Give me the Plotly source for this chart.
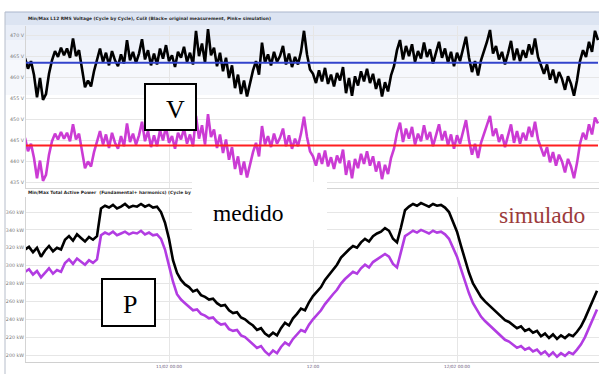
import pandas as pd
import plotly.graph_objects as go

# L12 RMS voltage (V), one sample every 15 min from 10/02 12:00
v_measured = [
    464.5, 462.0, 463.8, 460.5, 455.2, 459.8, 454.6, 456.0, 460.8, 464.0,
    466.2, 464.8, 467.0, 465.2, 466.8, 464.6, 469.2, 465.0, 466.4, 462.0,
    457.6, 459.2, 457.8, 461.4, 464.2, 466.8, 463.6, 465.8, 462.8, 466.2,
    464.0, 462.6, 465.4, 463.2, 468.8, 464.0, 466.0, 463.4, 465.6, 469.0,
    464.2, 466.4, 462.8, 465.6, 463.0, 466.8, 464.4, 467.6, 463.8, 465.2,
    462.4, 466.0, 464.6, 467.2, 463.6, 465.8, 463.0, 471.0, 465.0, 468.0,
    463.4, 471.4, 465.2, 467.0, 462.6, 465.8, 461.4, 464.6, 459.8, 462.8,
    457.4, 460.6, 456.0, 459.2, 455.4, 458.8, 461.6, 463.8, 460.6, 468.2,
    463.4, 465.4, 462.8, 466.0, 463.6, 465.0, 467.4, 463.0, 465.6, 462.4,
    464.8, 463.0, 466.0, 471.0, 465.4, 461.8, 460.8, 458.6, 461.6, 459.0,
    462.2, 458.4, 460.6, 457.8, 461.0, 459.2, 462.4, 456.2, 459.8, 455.6,
    460.2, 458.0, 461.4, 459.0, 462.0, 458.6, 460.8, 457.2, 459.6, 455.4,
    458.8, 456.6, 460.4, 462.6, 466.4, 468.8, 464.2, 467.4, 465.0, 467.8,
    463.6, 466.2, 464.4, 468.2, 464.8, 466.6, 463.2, 465.8, 468.4, 464.6,
    466.8, 463.4, 466.0, 462.6, 465.8, 463.8, 466.4, 469.6, 464.6, 461.2,
    463.8, 460.4, 464.0, 466.2, 468.4, 471.2, 465.6, 467.4, 464.2, 466.0,
    463.0, 465.6, 468.6, 464.0, 466.8, 463.8, 466.4, 464.6, 467.8, 465.4,
    469.2, 464.8, 462.6, 460.8, 463.0, 459.4, 461.8, 458.6, 461.2, 459.6,
    457.0, 460.2, 458.4, 455.6, 459.2, 463.8, 466.4, 464.8, 468.4, 466.0,
    471.0, 468.8,
]
v_simulated = [
    445.6, 442.4, 444.2, 440.8, 436.0, 440.2, 435.4, 436.8, 441.6, 444.8,
    446.6, 445.2, 447.0, 445.4, 446.8, 444.8, 448.8, 445.2, 446.6, 442.4,
    438.4, 440.0, 438.8, 442.2, 444.6, 447.2, 444.0, 446.4, 443.2, 446.8,
    444.4, 443.0, 446.0, 443.6, 449.0, 444.6, 446.6, 444.0, 446.2, 449.4,
    444.8, 447.2, 443.4, 446.2, 443.6, 447.4, 445.0, 448.2, 444.4, 446.0,
    443.0, 446.8, 445.2, 447.8, 444.2, 446.4, 443.6, 450.8, 445.4, 448.6,
    444.0, 451.2, 445.8, 447.6, 443.2, 446.4, 442.0, 445.2, 440.4, 443.4,
    438.2, 441.2, 436.8, 440.0, 436.2, 439.6, 442.2, 444.4, 441.2, 448.4,
    444.0, 446.0, 443.4, 446.6, 444.2, 445.6, 447.8, 443.6, 446.2, 443.0,
    445.4, 443.6, 446.6, 450.6, 445.8, 442.4, 441.2, 439.0, 442.0, 439.4,
    442.6, 438.8, 441.0, 438.2, 441.4, 439.6, 442.8, 436.8, 440.2, 436.0,
    440.6, 438.4, 441.8, 439.4, 442.4, 439.0, 441.2, 437.6, 440.0, 435.8,
    439.2, 437.0, 440.8, 443.0, 446.8, 449.2, 444.6, 447.8, 445.4, 448.2,
    444.0, 446.6, 444.8, 448.6, 445.2, 447.0, 443.6, 446.2, 448.8, 445.0,
    447.2, 443.8, 446.4, 443.0, 446.2, 444.2, 446.8, 449.8, 445.0, 441.6,
    444.2, 440.8, 444.4, 446.6, 448.8, 450.8, 446.0, 447.8, 444.6, 446.4,
    443.4, 446.0, 448.8, 444.4, 447.2, 444.2, 446.8, 445.0, 448.2, 445.8,
    449.4, 445.2, 443.0, 441.2, 443.4, 439.8, 442.2, 439.0, 441.6, 440.0,
    437.4, 440.6, 438.8, 436.0, 439.6, 444.2, 446.8, 445.2, 448.8, 446.4,
    450.4, 449.0,
]
v_measured_level = 463.4
v_simulated_level = 443.8

# Total active power (kW), one sample every 20 min from 10/02 12:00
p_measured = [
    318, 321, 315, 320, 310, 317, 322, 316, 320, 318,
    329, 333, 328, 335, 331, 327, 332, 329, 333,
    364, 367, 365, 368, 364, 366, 369, 365, 367, 366, 369, 366, 368, 365, 366,
    360, 348, 330, 306, 292, 284, 279,
    276, 271, 273, 267, 265, 262, 263, 258, 255, 256, 250, 247, 248, 242, 240, 236,
    233, 228, 230, 224, 221, 225, 222,
    230, 236, 233, 241, 246, 252, 250, 259, 266, 271, 276, 284, 290, 296, 301,
    309, 314, 318, 322, 320, 326, 330, 327, 333, 336, 338, 342, 339, 330,
    326, 343, 362,
    366, 369, 367, 370, 368, 366, 369, 367, 368, 365,
    360, 350, 338, 322, 306, 292, 280, 273, 265, 260, 256, 251, 248, 244, 239,
    237, 233, 230, 232, 227, 229, 225, 227,
    221, 224, 219, 223, 218, 222, 219, 223, 221, 226, 232, 241, 252, 263, 272,
]
p_simulated = [
    293, 296, 290, 294, 287, 292, 297, 291, 295, 293,
    303, 307, 302, 308, 304, 301, 306, 303, 307,
    334, 337, 335, 338, 334, 336, 338, 335, 337, 336, 339, 335, 337, 334, 335,
    330, 318, 300, 282, 268, 262, 258,
    254, 250, 251, 246, 244, 241, 242, 237, 234, 235, 229, 227, 228, 222, 220, 216,
    213, 208, 210, 204, 200, 205, 202,
    209, 214, 211, 218, 223, 228, 226, 234, 240, 245, 250, 257, 263, 268, 273,
    280, 285, 289, 293, 291, 297, 301, 298, 304, 307, 309, 313, 310, 302,
    298, 316, 333,
    336, 339, 337, 340, 338, 336, 339, 337, 338, 335,
    330, 320, 310, 296, 282, 269, 258, 251, 243, 238, 234, 229, 226, 222, 217,
    215, 211, 208, 210, 206, 208, 204, 206,
    201, 204, 199, 203, 198, 202, 199, 203, 201, 206, 212, 220, 230, 241, 251,
]

v_ticks = [435, 440, 445, 450, 455, 460, 465, 470]
p_ticks = [200, 220, 240, 260, 280, 300, 320, 340, 360]
time_ticks = ["2013-02-11 00:00", "2013-02-11 12:00", "2013-02-12 00:00"]
time_tick_labels = ["11/02 00:00", "12:00", "12/02 00:00"]
time_range = ["2013-02-10 12:05", "2013-02-12 11:50"]

t_v = pd.date_range("2013-02-10 12:00", periods=len(v_measured), freq="15min")
t_p = pd.date_range("2013-02-10 12:00", periods=len(p_measured), freq="20min")

W, H = 599, 374


def px(x):
    return x / W


def py(y):
    return 1 - y / H


BLACK = "#000000"
PINK_V = "#cb3bd4"
PINK_P = "#b23ce2"
GRID = "#e6e6e6"
TICK_FONT = dict(family="DejaVu Sans", size=4.8, color="#7a7a7a")

fig = go.Figure()

fig.add_trace(go.Scatter(x=t_v, y=v_measured, xaxis="x", yaxis="y", mode="lines",
                         line=dict(color=BLACK, width=2.6)))
fig.add_trace(go.Scatter(x=t_v, y=v_simulated, xaxis="x", yaxis="y", mode="lines",
                         line=dict(color=PINK_V, width=2.6)))
fig.add_trace(go.Scatter(x=[t_v[0], t_v[-1]], y=[v_measured_level] * 2, xaxis="x", yaxis="y",
                         mode="lines", line=dict(color="#3344cc", width=2)))
fig.add_trace(go.Scatter(x=[t_v[0], t_v[-1]], y=[v_simulated_level] * 2, xaxis="x", yaxis="y",
                         mode="lines", line=dict(color="#ff1f1f", width=2)))
fig.add_trace(go.Scatter(x=t_p, y=p_measured, xaxis="x2", yaxis="y2", mode="lines",
                         line=dict(color=BLACK, width=2.6)))
fig.add_trace(go.Scatter(x=t_p, y=p_simulated, xaxis="x2", yaxis="y2", mode="lines",
                         line=dict(color=PINK_P, width=2.6)))

x_dom = [px(26), 1]
fig.update_layout(
    width=W, height=H,
    margin=dict(l=0, r=0, t=0, b=0),
    paper_bgcolor="white",
    plot_bgcolor="rgba(0,0,0,0)",
    showlegend=False,
    xaxis=dict(domain=x_dom, anchor="y", type="date", range=time_range,
               tickvals=time_ticks, showticklabels=False, ticks="",
               showgrid=True, gridcolor=GRID, gridwidth=1, zeroline=False,
               showline=True, linecolor="#d4d4d4", linewidth=1),
    yaxis=dict(domain=[py(188), py(26)], anchor="x", range=[433.69, 472.14],
               tickvals=v_ticks, ticktext=[f"{v} V" for v in v_ticks],
               tickfont=TICK_FONT, ticks="", showgrid=True, gridcolor=GRID,
               zeroline=False, showline=True, linecolor="#d4d4d4", linewidth=1),
    xaxis2=dict(domain=x_dom, anchor="y2", type="date", range=time_range,
                tickvals=time_ticks, ticktext=time_tick_labels,
                tickfont=dict(family="DejaVu Sans", size=4.3, color="#6a5a7a"),
                ticks="", showgrid=True, gridcolor=GRID, gridwidth=1, zeroline=False,
                showline=True, linecolor="#d0d0d0", linewidth=1),
    yaxis2=dict(domain=[py(362), py(197)], anchor="x2", range=[192.17, 376.8],
                tickvals=p_ticks, ticktext=[f"{p} kW" for p in p_ticks],
                tickfont=TICK_FONT, ticks="", showgrid=True, gridcolor=GRID,
                zeroline=False, showline=True, linecolor="#d4d4d4", linewidth=1),
)

shapes = []
# window header band fading into the voltage panel
for y0, y1, col in [(12, 25, "#dce4f2"), (25, 40, "#e9eef8"), (40, 60, "#f0f3fa"),
                    (60, 95, "#f6f8fc")]:
    shapes.append(dict(type="rect", xref="paper", yref="paper", layer="below",
                       x0=px(5), x1=1, y0=py(y1), y1=py(y0), fillcolor=col,
                       line=dict(width=0)))
shapes.append(dict(type="line", xref="paper", yref="paper", x0=px(5), x1=1,
                   y0=py(12), y1=py(12), line=dict(color="#aab5cb", width=1)))
shapes.append(dict(type="line", xref="paper", yref="paper", x0=px(5), x1=px(5),
                   y0=py(12), y1=0, line=dict(color="#b6bdca", width=1)))
# label boxes
for x0, x1, y0, y1 in [(145, 196, 84, 130), (102, 155, 279, 326)]:
    shapes.append(dict(type="rect", xref="paper", yref="paper", layer="above",
                       x0=px(x0), x1=px(x1), y0=py(y1), y1=py(y0),
                       fillcolor="white", line=dict(color="black", width=2)))
fig.update_layout(shapes=shapes)

title_font = dict(family="DejaVu Sans", size=4.4, color="#2a2a2a")
serif = "Liberation Serif"
annotations = [
    dict(text="<b>Min/Max L12 RMS Voltage (Cycle by Cycle), Col3 (Black= original measurement, Pink= simulation)</b>",
         x=px(26), y=py(19), xanchor="left", yanchor="middle", font=title_font),
    dict(text="<b>Min/Max Total Active Power  (Fundamental+ harmonics) (Cycle by Cycle), Col3</b>",
         x=px(26), y=py(193), xanchor="left", yanchor="middle", font=title_font),
    dict(text="\u00a0", x=px(259.5), y=py(211), xanchor="center", yanchor="middle",
         width=135, height=58, bgcolor="white", borderpad=0, borderwidth=0),
    dict(text="medido", x=px(248), y=py(213), xanchor="center", yanchor="middle",
         font=dict(family=serif, size=23.5, color="black")),
    dict(text="simulado", x=px(542), y=py(215), xanchor="center", yanchor="middle",
         font=dict(family=serif, size=23.5, color="#9c3b3b")),
    dict(text="V", x=px(175), y=py(109), xanchor="center", yanchor="middle",
         font=dict(family=serif, size=26, color="black")),
    dict(text="P", x=px(130), y=py(304), xanchor="center", yanchor="middle",
         font=dict(family=serif, size=26, color="black")),
]
for a in annotations:
    a.setdefault("xref", "paper")
    a.setdefault("yref", "paper")
    a.setdefault("showarrow", False)
fig.update_layout(annotations=annotations)

fig.write_html("out.html")
